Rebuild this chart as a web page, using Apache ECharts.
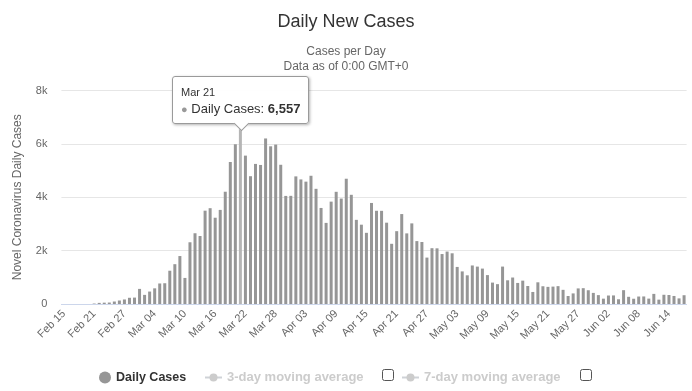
<!DOCTYPE html>
<html>
<head>
<meta charset="utf-8">
<script src="https://cdn.jsdelivr.net/npm/echarts@6/dist/echarts.min.js"></script>
<style>
html,body{margin:0;padding:0;background:#fff;}
#c{width:692px;height:391px;}
</style>
</head>
<body>
<div id="c"></div>
<script>
// ---- data ----
const startDate = [2020, 2, 15]; // Feb 15, 2020
const dayCount = 124;            // Feb 15 .. Jun 17
const dailyCases = [
  // Feb 15 - Feb 29
  0, 0, 0, 0, 0, 0, 17, 42, 50, 55, 93, 131, 170, 233, 240,
  // Mar 1 - Mar 31
  566, 342, 466, 587, 769, 778, 1247, 1492, 1797, 977,
  2313, 2651, 2547, 3497, 3590, 3233, 3526, 4207, 5322, 5986,
  6557, 5560, 4789, 5249, 5210, 6203, 5909, 5974, 5217, 4050, 4053,
  // Apr 1 - Apr 30
  4782, 4668, 4585, 4805, 4316, 3599, 3039, 3836, 4204, 3951,
  4694, 4092, 3153, 2972, 2667, 3786, 3493, 3491, 3047, 2256,
  2729, 3370, 2646, 3021, 2357, 2324, 1739, 2091, 2086, 1872,
  // May 1 - May 31
  1965, 1900, 1389, 1221, 1075, 1444, 1401, 1327, 1083, 802,
  744, 1402, 888, 992, 789, 875, 675, 451, 813, 665,
  642, 652, 669, 531, 300, 397, 584, 593, 516, 416, 333,
  // Jun 1 - Jun 17
  200, 318, 321, 177, 518, 270, 197, 280, 283, 202,
  379, 163, 346, 338, 301, 210, 329
];
const movingAvg3 = [];   // hidden series (legend item disabled)
const movingAvg7 = [];   // hidden series (legend item disabled)
const yTicks = [0, 2000, 4000, 6000, 8000];
const highlightDate = 'Mar 21';

const monthNames = ['Jan','Feb','Mar','Apr','May','Jun','Jul','Aug','Sep','Oct','Nov','Dec'];
const categories = [];
for (let i = 0; i < dayCount; i++) {
  const d = new Date(Date.UTC(startDate[0], startDate[1] - 1, startDate[2] + i));
  const dd = d.getUTCDate();
  categories.push(monthNames[d.getUTCMonth()] + ' ' + (dd < 10 ? '0' + dd : dd));
}
// ---- chart ----
const FONT = "'Liberation Sans', Arial, sans-serif";
const chart = echarts.init(document.getElementById('c'), null, {renderer: 'canvas'});
const hIdx = categories.indexOf(highlightDate);

const option = {
  animation: false,
  textStyle: {fontFamily: FONT},
  title: [
    {text: 'Daily New Cases', left: 'center', top: 13, padding: 0,
     textStyle: {fontFamily: FONT, fontSize: 18, fontWeight: 'normal', color: '#333333'}},
    {text: 'Cases per Day', left: 'center', top: 46, padding: 0,
     textStyle: {fontFamily: FONT, fontSize: 12, fontWeight: 'normal', color: '#666666'}},
    {text: 'Data as of 0:00 GMT+0', left: 'center', top: 61, padding: 0,
     textStyle: {fontFamily: FONT, fontSize: 12, fontWeight: 'normal', color: '#666666'}}
  ],
  grid: {left: 61.4, right: 5.4, top: 90.5, bottom: 87, containLabel: false},
  tooltip: {
    trigger: 'item',
    alwaysShowContent: true,
    transitionDuration: 0,
    backgroundColor: 'rgba(255,255,255,0.96)',
    borderColor: '#9a9a9a',
    borderWidth: 1,
    borderRadius: 3,
    padding: [7, 8, 6, 8],
    extraCssText: 'box-shadow:1px 1px 3px rgba(0,0,0,0.3);overflow:visible;',
    formatter: function (p) {
      return '<div style="font-family:Liberation Sans, Arial, sans-serif;color:#333;line-height:16px;">' +
        '<div style="font-size:11px;">' + p.name + '</div>' +
        '<div style="font-size:13px;margin-top:1px;"><span style="color:#999;font-size:11px;">\u25CF</span> ' + p.seriesName +
        ': <b>' + p.value.toLocaleString('en-US') + '</b></div></div>' +
        '<div style="position:absolute;left:50%;bottom:-6px;margin-left:-5px;width:10px;height:10px;' +
        'background:#fff;border-right:1px solid #9a9a9a;border-bottom:1px solid #9a9a9a;transform:rotate(45deg);"></div>';
    },
    position: function (point, params, dom, rect, size) {
      const px = chart.convertToPixel({seriesIndex: 0}, [params.dataIndex, params.value]);
      return [px[0] - size.contentSize[0] / 2, px[1] - size.contentSize[1] - 5];
    }
  },
  legend: [
    {data: [{name: 'Daily Cases', icon: 'circle'}], left: 94, top: 366, itemWidth: 12, itemHeight: 12, itemGap: 7,
     textStyle: {fontFamily: FONT, fontSize: 12.5, fontWeight: 'bold', color: '#333333'}},
    {data: ['3-day moving average'], left: 199, top: 366, itemWidth: 17, itemHeight: 10,
     selected: {'3-day moving average': false}, inactiveColor: '#cccccc',
     textStyle: {fontFamily: FONT, fontSize: 13, fontWeight: 'bold'}},
    {data: ['7-day moving average'], left: 396, top: 366, itemWidth: 17, itemHeight: 10,
     selected: {'7-day moving average': false}, inactiveColor: '#cccccc',
     textStyle: {fontFamily: FONT, fontSize: 13, fontWeight: 'bold'}}
  ],
  graphic: [
    {type: 'rect', left: 382, top: 369, shape: {width: 11, height: 11, r: 2}, style: {fill: '#fff', stroke: '#555', lineWidth: 1}},
    {type: 'rect', left: 580, top: 369, shape: {width: 11, height: 11, r: 2}, style: {fill: '#fff', stroke: '#555', lineWidth: 1}}
  ],
  xAxis: {
    type: 'category',
    data: categories,
    boundaryGap: true,
    axisLine: {lineStyle: {color: '#ccd6eb'}},
    axisTick: {show: false},
    axisLabel: {interval: 5, rotate: 45, color: '#666666', fontSize: 11, fontFamily: FONT, margin: 8}
  },
  yAxis: {
    type: 'value',
    min: yTicks[0],
    max: yTicks[yTicks.length - 1],
    interval: yTicks[1] - yTicks[0],
    name: 'Novel Coronavirus Daily Cases',
    nameLocation: 'middle',
    nameGap: 38,
    nameTextStyle: {color: '#666666', fontSize: 12, fontFamily: FONT},
    axisLine: {show: false},
    axisTick: {show: false},
    splitLine: {lineStyle: {color: '#e6e6e6'}},
    axisLabel: {color: '#666666', fontSize: 11, fontFamily: FONT, margin: 14,
      formatter: v => v === 0 ? '0' : (v / 1000) + 'k'}
  },
  series: [
    {name: 'Daily Cases', type: 'bar', data: dailyCases, barWidth: 3,
     itemStyle: {color: '#969696'},
     emphasis: {itemStyle: {color: '#b5b5b5'}}},
    {name: '3-day moving average', type: 'line', data: movingAvg3, symbol: 'circle', symbolSize: 6, itemStyle: {color: '#999999'}},
    {name: '7-day moving average', type: 'line', data: movingAvg7, symbol: 'circle', symbolSize: 6, itemStyle: {color: '#999999'}}
  ]
};
chart.setOption(option);
chart.dispatchAction({type: 'highlight', seriesIndex: 0, dataIndex: hIdx});
chart.dispatchAction({type: 'showTip', seriesIndex: 0, dataIndex: hIdx});
</script>
</body>
</html>
